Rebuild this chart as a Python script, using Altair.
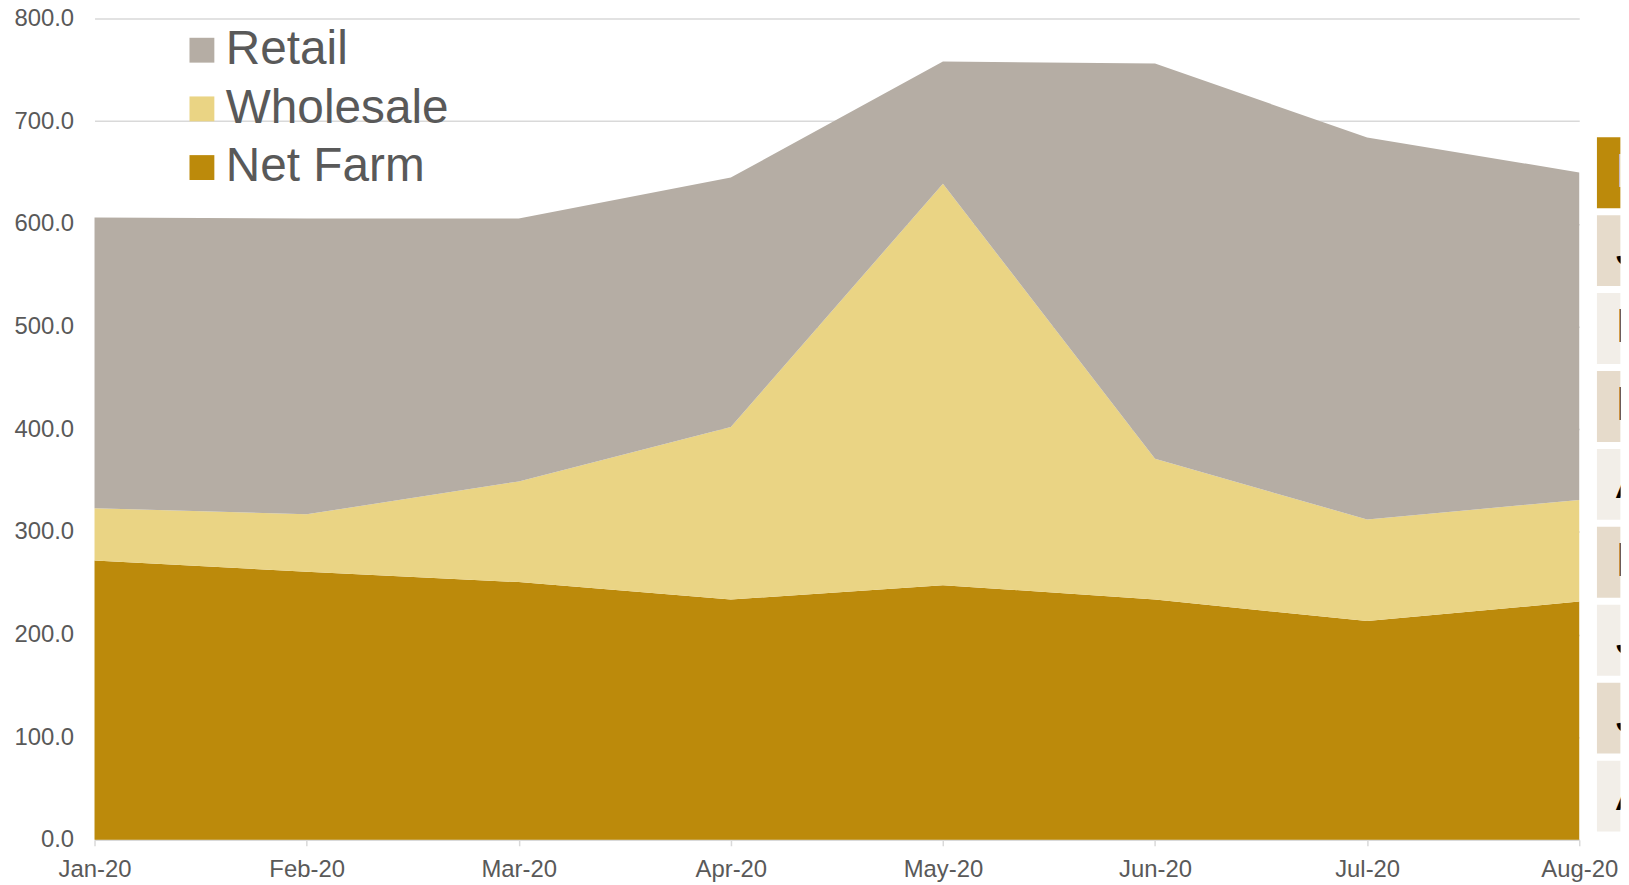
import altair as alt
import pandas as pd

months = ["Jan-20", "Feb-20", "Mar-20", "Apr-20", "May-20", "Jun-20", "Jul-20", "Aug-20"]
net_farm = [272, 261, 251, 234, 248, 234, 213, 232]
wholesale = [51, 56, 98, 168, 391, 137, 99, 99]
retail = [283, 288, 256, 243, 119, 385, 372, 319]

series = ["Retail", "Wholesale", "Net Farm"]
colors = ["#B5ADA4", "#EAD484", "#BC8A0B"]

table_rows = ["Date"] + months
row_fills = ["#BC8A0B"] + ["#E6DBCB", "#F2EEE8"] * 4
row_text_colors = ["#FFFFFF"] + ["#000000"] * 8

FONT = "Liberation Sans"
GREY = "#595959"

records = []
for i, m in enumerate(months):
    records.append({"month": m, "series": "Net Farm", "value": net_farm[i], "ord": 0})
    records.append({"month": m, "series": "Wholesale", "value": wholesale[i], "ord": 1})
    records.append({"month": m, "series": "Retail", "value": retail[i], "ord": 2})
df = pd.DataFrame(records)

area = alt.Chart(df).mark_area().encode(
    x=alt.X("month:O", sort=months,
            scale=alt.Scale(type="point", padding=0),
            axis=alt.Axis(title=None, labelAngle=0, grid=False,
                          domainColor="#D9D9D9", domainWidth=1.5,
                          tickColor="#D9D9D9", tickSize=6, tickWidth=1.5,
                          labelPadding=12, labelFontSize=24, labelColor=GREY,
                          labelFont=FONT)),
    y=alt.Y("value:Q", stack="zero",
            scale=alt.Scale(domain=[0, 800], nice=False),
            axis=alt.Axis(title=None, values=list(range(0, 801, 100)), format=".1f",
                          domain=False, ticks=False, labelPadding=21,
                          labelFontSize=24, labelColor=GREY, labelFont=FONT,
                          gridColor="#D9D9D9", gridWidth=1.5)),
    color=alt.Color("series:N",
                    scale=alt.Scale(domain=series, range=colors),
                    legend=alt.Legend(title=None, orient="none", legendX=84, legendY=8,
                                      symbolType="square", symbolSize=625,
                                      symbolStrokeWidth=0, symbolOpacity=1,
                                      labelFontSize=48, labelColor=GREY, labelFont=FONT,
                                      rowPadding=11, labelOffset=0, labelLimit=500,
                                      padding=0)),
    order=alt.Order("ord:Q"),
).properties(width=1493, height=826)

tdf = pd.DataFrame({"row": table_rows, "fill": row_fills, "tcolor": row_text_colors})
yscale = alt.Scale(domain=table_rows, paddingInner=0.09, paddingOuter=0.8155, align=0.935)

rect = alt.Chart(tdf).mark_rect(clip=True).encode(
    y=alt.Y("row:N", sort=table_rows, scale=yscale, axis=None),
    x=alt.value(0),
    x2=alt.value("width"),
    color=alt.Color("fill:N", scale=None, legend=None),
)
text = alt.Chart(tdf).mark_text(align="left", baseline="middle", dx=19,
                                fontSize=48, font=FONT, clip=True).encode(
    y=alt.Y("row:N", sort=table_rows, scale=yscale, axis=None),
    x=alt.value(0),
    text="row:N",
    color=alt.Color("tcolor:N", scale=None, legend=None),
)
table = alt.layer(rect, text).properties(width=24, height=826)

chart = alt.hconcat(area, table, spacing=17.6, bounds="flush").properties(
    padding={"left": 5, "top": -4, "right": 0, "bottom": 0},
    background="white",
).configure_view(stroke=None)

chart.save("out.html", embed_options={"renderer": "svg", "actions": False})
